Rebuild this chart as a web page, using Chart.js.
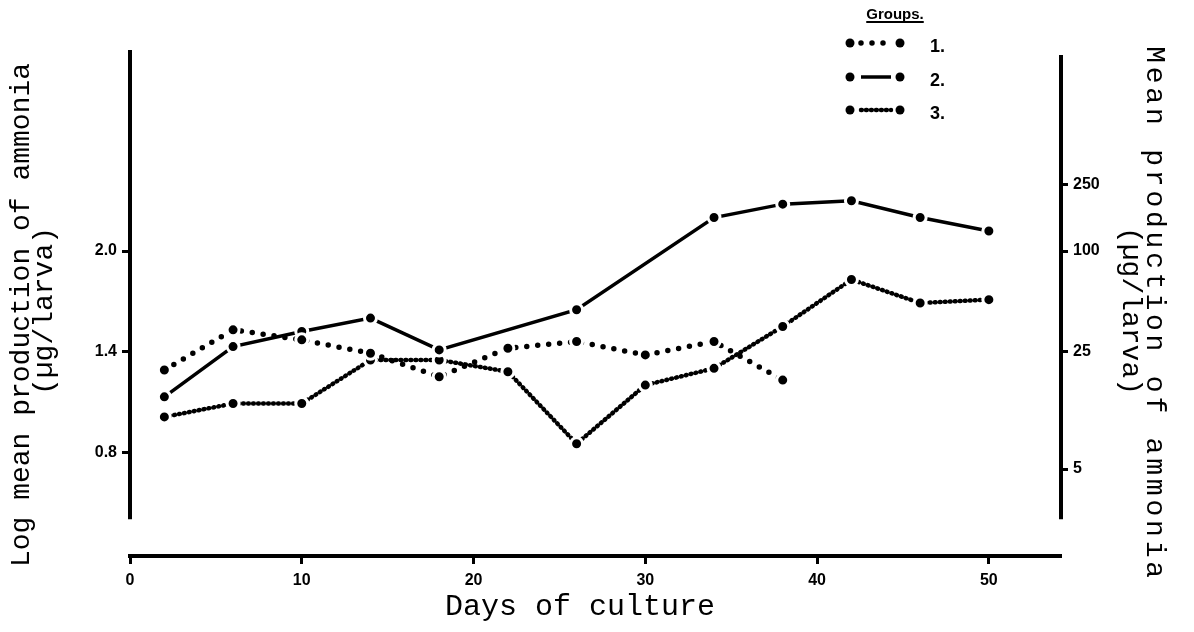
<!DOCTYPE html>
<html><head><meta charset="utf-8">
<script src="https://cdn.jsdelivr.net/npm/chart.js@4.4.1/dist/chart.umd.min.js"></script>
<style>html,body{margin:0;padding:0;background:#fff;}#wrap{width:1194px;height:632px;}</style>
</head><body><div id="wrap"><canvas id="c" width="1194" height="632"></canvas></div>
<script>
const group1Days = [2, 6, 10, 14, 18, 22, 26, 30, 34, 38];
const group1Values = [1.29, 1.53, 1.47, 1.39, 1.25, 1.42, 1.46, 1.38, 1.46, 1.23];
const group2Days = [2, 6, 10, 14, 18, 26, 34, 38, 42, 46, 50];
const group2Values = [1.13, 1.43, 1.52, 1.60, 1.41, 1.65, 2.20, 2.28, 2.30, 2.20, 2.12];
const group3Days = [2, 6, 10, 14, 18, 22, 26, 30, 34, 38, 42, 46, 50];
const group3Values = [1.01, 1.09, 1.09, 1.35, 1.35, 1.28, 0.85, 1.20, 1.30, 1.55, 1.83, 1.69, 1.71];
const groupLabels = ['1.', '2.', '3.'];
const xTickValues = [0, 10, 20, 30, 40, 50];
const leftTickValues = [0.8, 1.4, 2.0];
const rightTickLabels = [5, 25, 100, 250];
const leftTitle = ['Log mean production of ammonia', '(\u00b5g/larva)'];
const rightTitle = ['Mean production of ammonia', '(\u00b5g/larva)'];
const xTitle = 'Days of culture';
const legendTitle = 'Groups.';

const MONO = "'Liberation Mono', 'DejaVu Sans Mono', monospace";
const SANS = "'Liberation Sans', Arial, sans-serif";
const Y_MIN = 0.18, Y_MAX = 3.2, AXIS_BOTTOM = 0.4;
const pairs = (xs, ys) => xs.map((x, i) => ({x: x, y: ys[i]}));

const pointStyle = {pointRadius: 6, pointHoverRadius: 6, pointBackgroundColor: '#000', pointBorderColor: '#fff', pointBorderWidth: 3};

const axisLines = {
  id: 'axisLines',
  afterDraw(chart) {
    const ctx = chart.ctx;
    ['y', 'y2'].forEach(id => {
      const s = chart.scales[id];
      const x = id === 'y' ? s.right : s.left;
      ctx.save();
      ctx.strokeStyle = '#000'; ctx.lineWidth = 4;
      ctx.beginPath();
      ctx.moveTo(x, s.getPixelForValue(id === 'y' ? Y_MAX : Y_MAX - 0.03));
      ctx.lineTo(x, s.getPixelForValue(AXIS_BOTTOM));
      ctx.stroke();
      ctx.restore();
    });
  }
};

function rotatedText(ctx, text, x, y, angle, spacing) {
  ctx.save();
  ctx.translate(x, y);
  ctx.rotate(angle);
  ctx.letterSpacing = spacing || '0px';
  ctx.fillText(text, 0, 0);
  ctx.restore();
}

const axisTitles = {
  id: 'axisTitles',
  afterDraw(chart) {
    const ctx = chart.ctx;
    ctx.save();
    ctx.fillStyle = '#000';
    ctx.textAlign = 'center';
    ctx.textBaseline = 'middle';
    ctx.font = '28px ' + MONO;
    rotatedText(ctx, leftTitle[0], 22, 315, -Math.PI / 2);
    rotatedText(ctx, leftTitle[1], 45, 311, -Math.PI / 2);
    rotatedText(ctx, rightTitle[0], 1154, 314, Math.PI / 2, '3.8px');
    rotatedText(ctx, rightTitle[1], 1130, 311, Math.PI / 2);
    ctx.font = '30px ' + MONO;
    ctx.fillText(xTitle, 580, 607);
    ctx.restore();
  }
};

const groupsLegend = {
  id: 'groupsLegend',
  afterDraw(chart) {
    const ctx = chart.ctx;
    ctx.save();
    ctx.fillStyle = '#000';
    ctx.font = "bold 15px " + SANS;
    ctx.textAlign = 'center'; ctx.textBaseline = 'alphabetic';
    ctx.fillText(legendTitle, 895, 19);
    const w = ctx.measureText(legendTitle).width;
    ctx.fillRect(895 - w / 2, 21, w, 2);
    const rows = [43, 77, 110];
    chart.data.datasets.forEach((ds, i) => {
      const y = rows[i];
      ctx.save();
      ctx.strokeStyle = ds.borderColor; ctx.lineWidth = ds.borderWidth;
      ctx.setLineDash(ds.borderDash || []); ctx.lineCap = ds.borderCapStyle || 'butt';
      ctx.beginPath(); ctx.moveTo(861, y); ctx.lineTo(891, y); ctx.stroke();
      ctx.restore();
      [850, 900].forEach(x => { ctx.beginPath(); ctx.arc(x, y, 4.5, 0, Math.PI * 2); ctx.fill(); });
      ctx.font = "bold 18px " + SANS; ctx.textAlign = 'left'; ctx.textBaseline = 'middle';
      ctx.fillText(ds.label, 930, y + 4);
    });
    ctx.restore();
  }
};

const tickFont = {family: SANS, size: 16, weight: 'bold'};

new Chart(document.getElementById('c'), {
  type: 'line',
  data: {
    datasets: [
      Object.assign({label: groupLabels[0], data: pairs(group1Days, group1Values), borderColor: '#000', borderWidth: 5.5, borderDash: [0, 11], borderCapStyle: 'round', yAxisID: 'y'}, pointStyle),
      Object.assign({label: groupLabels[1], data: pairs(group2Days, group2Values), borderColor: '#000', borderWidth: 3.5, yAxisID: 'y'}, pointStyle),
      Object.assign({label: groupLabels[2], data: pairs(group3Days, group3Values), borderColor: '#000', borderWidth: 4.5, borderDash: [0.8, 4.2], borderCapStyle: 'round', yAxisID: 'y'}, pointStyle)
    ]
  },
  options: {
    responsive: false,
    animation: false,
    layout: {padding: {top: 50, left: 0, right: 0, bottom: 0}},
    plugins: {legend: {display: false}, title: {display: false}, tooltip: {enabled: false}},
    elements: {line: {tension: 0}},
    scales: {
      x: {
        type: 'linear', min: 0, max: 54.2,
        afterBuildTicks: s => { s.ticks = xTickValues.map(v => ({value: v})); },
        border: {display: true, color: '#000', width: 4},
        grid: {drawOnChartArea: false, drawTicks: true, tickLength: 8, tickWidth: 3, color: '#000'},
        ticks: {color: '#000', font: tickFont, padding: 7, maxRotation: 0, autoSkip: false},
        title: {display: false},
        afterFit: s => { s.height = 76; }
      },
      y: {
        type: 'linear', position: 'left', min: Y_MIN, max: Y_MAX,
        afterBuildTicks: s => { s.ticks = leftTickValues.map(v => ({value: v})); },
        border: {display: false},
        grid: {drawOnChartArea: false, drawTicks: true, tickLength: 8, tickWidth: 3, color: '#000'},
        ticks: {color: '#000', font: tickFont, padding: 5, callback: v => Number(v).toFixed(1)},
        title: {display: false},
        afterFit: s => { s.width = 130; }
      },
      y2: {
        type: 'linear', position: 'right', min: Y_MIN, max: Y_MAX,
        afterBuildTicks: s => { s.ticks = rightTickLabels.map(v => ({value: Math.log10(v)})); },
        border: {display: false},
        grid: {drawOnChartArea: false, drawTicks: true, tickLength: 7, tickWidth: 3, color: '#000'},
        ticks: {color: '#000', font: tickFont, padding: 5, callback: (v, i) => String(rightTickLabels[i])},
        title: {display: false},
        afterFit: s => { s.width = 133; }
      }
    }
  },
  plugins: [axisLines, axisTitles, groupsLegend]
});
</script>
</body></html>
